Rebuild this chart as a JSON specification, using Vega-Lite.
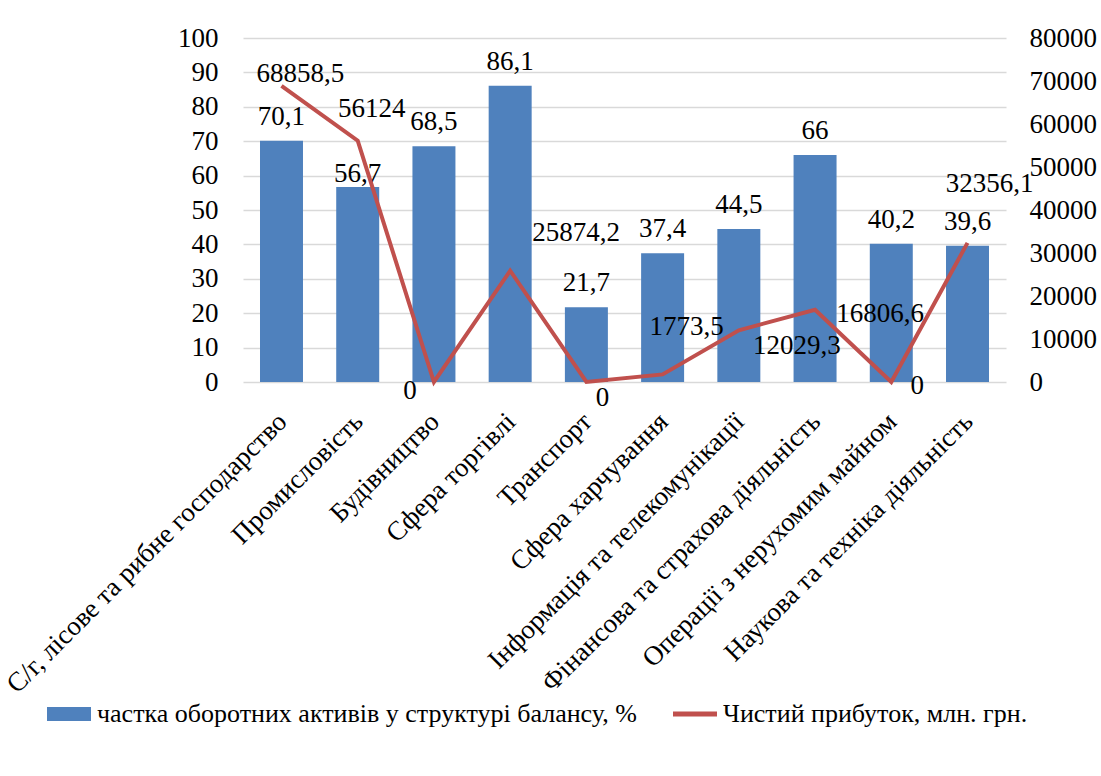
{
  "$schema": "https://vega.github.io/schema/vega-lite/v6.json",
  "width": 763,
  "height": 344,
  "autosize": "none",
  "padding": {"left": 243, "top": 38, "right": 95, "bottom": 394},
  "background": "white",
  "config": {
    "font": "serif",
    "view": {"stroke": null},
    "axis": {"labelColor": "black", "domain": false, "ticks": false, "labelFont": "serif"},
    "legend": {"labelFont": "serif"},
    "text": {"font": "serif"}
  },
  "data": {"values": [
    {"cat": "С/г, лісове та рибне господарство", "share": 70.1, "profit": 68858.5},
    {"cat": "Промисловість", "share": 56.7, "profit": 56124},
    {"cat": "Будівництво", "share": 68.5, "profit": 0},
    {"cat": "Сфера торгівлі", "share": 86.1, "profit": 25874.2},
    {"cat": "Транспорт", "share": 21.7, "profit": 0},
    {"cat": "Сфера харчування", "share": 37.4, "profit": 1773.5},
    {"cat": "Інформація та телекомунікації", "share": 44.5, "profit": 12029.3},
    {"cat": "Фінансова та страхова діяльність", "share": 66, "profit": 16806.6},
    {"cat": "Операції з нерухомим майном", "share": 40.2, "profit": 0},
    {"cat": "Наукова та техніка діяльність", "share": 39.6, "profit": 32356.1}
  ]},
  "transform": [
    {"calculate": "replace(format(datum.share, '~f'), '.', ',')", "as": "shareLabel"},
    {"calculate": "replace(format(datum.profit, '~f'), '.', ',')", "as": "profitLabel"}
  ],
  "encoding": {
    "x": {
      "field": "cat", "type": "nominal", "sort": null, "title": null,
      "scale": {"paddingInner": 0.436, "paddingOuter": 0.223},
      "axis": {"labelFont": "serif", "labelAngle": -45, "labelAlign": "right", "labelBaseline": "top", "labelFontSize": 27, "labelPadding": 26, "labelOffset": -8, "labelLimit": 0, "grid": false}
    }
  },
  "layer": [
    {
      "mark": {"type": "bar", "color": "#4F81BD"},
      "encoding": {
        "y": {
          "field": "share", "type": "quantitative", "title": null,
          "scale": {"domain": [0, 100], "nice": false},
          "axis": {"orient": "left", "labelFont": "serif", "values": [0, 10, 20, 30, 40, 50, 60, 70, 80, 90, 100], "format": "d", "labelFontSize": 27, "labelPadding": 25, "grid": true, "gridColor": "#D9D9D9", "gridWidth": 1.5}
        },
        "color": {
          "datum": "частка оборотних активів у структурі балансу, %",
          "scale": {"domain": ["частка оборотних активів у структурі балансу, %", "Чистий прибуток, млн. грн."], "range": ["#4F81BD", "#C0504D"]},
          "legend": {
            "orient": "none", "legendX": -196, "legendY": 654, "direction": "horizontal", "title": null,
            "labelFontSize": 26, "labelFont": "serif", "labelColor": "black", "labelLimit": 0,
            "symbolSize": 1936, "labelOffset": 6, "columnPadding": 36, "padding": 0,
            "encode": {
              "symbols": {"update": {
                "shape": {"signal": "datum.index === 0 ? 'M-1,-0.32H1V0.32H-1Z' : 'M-1,-0.11H1V0.11H-1Z'"},
                "fill": {"signal": "datum.index === 0 ? '#4F81BD' : '#C0504D'"},
                "stroke": {"value": "transparent"},
                "strokeWidth": {"value": 0},
                "opacity": {"value": 1},
                "fillOpacity": {"value": 1}
              }}
            }
          }
        }
      }
    },
    {
      "transform": [{"filter": "datum.cat !== 'Промисловість'"}],
      "mark": {"type": "text", "font": "serif", "fontSize": 27, "color": "black", "align": "center", "baseline": "alphabetic", "dy": -16},
      "encoding": {
        "y": {"field": "share", "type": "quantitative", "scale": {"domain": [0, 100], "nice": false}, "axis": null},
        "text": {"field": "shareLabel", "type": "nominal"}
      }
    },
    {
      "transform": [{"filter": {"field": "cat", "equal": "Промисловість"}}],
      "mark": {"type": "text", "font": "serif", "fontSize": 27, "color": "black", "align": "center", "baseline": "alphabetic", "dy": -5},
      "encoding": {
        "y": {"field": "share", "type": "quantitative", "scale": {"domain": [0, 100], "nice": false}, "axis": null},
        "text": {"field": "shareLabel", "type": "nominal"}
      }
    },
    {
      "mark": {"type": "line", "strokeWidth": 4},
      "encoding": {
        "y": {
          "field": "profit", "type": "quantitative", "title": null,
          "scale": {"domain": [0, 80000], "nice": false},
          "axis": {"orient": "right", "labelFont": "serif", "values": [0, 10000, 20000, 30000, 40000, 50000, 60000, 70000, 80000], "format": "d", "labelFontSize": 27, "labelPadding": 23, "grid": false}
        },
        "color": {"datum": "Чистий прибуток, млн. грн."}
      }
    },
    {"transform": [{"filter": {"field": "cat", "equal": "С/г, лісове та рибне господарство"}}], "mark": {"type": "text", "font": "serif", "fontSize": 27, "color": "black", "align": "center", "baseline": "alphabetic", "dx": 19, "dy": -4}, "encoding": {"y": {"field": "profit", "type": "quantitative", "scale": {"domain": [0, 80000], "nice": false}, "axis": null}, "text": {"field": "profitLabel", "type": "nominal"}}},
    {"transform": [{"filter": {"field": "cat", "equal": "Промисловість"}}], "mark": {"type": "text", "font": "serif", "fontSize": 27, "color": "black", "align": "center", "baseline": "alphabetic", "dx": 14, "dy": -24}, "encoding": {"y": {"field": "profit", "type": "quantitative", "scale": {"domain": [0, 80000], "nice": false}, "axis": null}, "text": {"field": "profitLabel", "type": "nominal"}}},
    {"transform": [{"filter": {"field": "cat", "equal": "Будівництво"}}], "mark": {"type": "text", "font": "serif", "fontSize": 27, "color": "black", "align": "center", "baseline": "alphabetic", "dx": -24, "dy": 17}, "encoding": {"y": {"field": "profit", "type": "quantitative", "scale": {"domain": [0, 80000], "nice": false}, "axis": null}, "text": {"field": "profitLabel", "type": "nominal"}}},
    {"transform": [{"filter": {"field": "cat", "equal": "Сфера торгівлі"}}], "mark": {"type": "text", "font": "serif", "fontSize": 27, "color": "black", "align": "center", "baseline": "alphabetic", "dx": 66, "dy": -30}, "encoding": {"y": {"field": "profit", "type": "quantitative", "scale": {"domain": [0, 80000], "nice": false}, "axis": null}, "text": {"field": "profitLabel", "type": "nominal"}}},
    {"transform": [{"filter": {"field": "cat", "equal": "Транспорт"}}], "mark": {"type": "text", "font": "serif", "fontSize": 27, "color": "black", "align": "center", "baseline": "alphabetic", "dx": 16, "dy": 24}, "encoding": {"y": {"field": "profit", "type": "quantitative", "scale": {"domain": [0, 80000], "nice": false}, "axis": null}, "text": {"field": "profitLabel", "type": "nominal"}}},
    {"transform": [{"filter": {"field": "cat", "equal": "Сфера харчування"}}], "mark": {"type": "text", "font": "serif", "fontSize": 27, "color": "black", "align": "center", "baseline": "alphabetic", "dx": 24, "dy": -39}, "encoding": {"y": {"field": "profit", "type": "quantitative", "scale": {"domain": [0, 80000], "nice": false}, "axis": null}, "text": {"field": "profitLabel", "type": "nominal"}}},
    {"transform": [{"filter": {"field": "cat", "equal": "Інформація та телекомунікації"}}], "mark": {"type": "text", "font": "serif", "fontSize": 27, "color": "black", "align": "center", "baseline": "alphabetic", "dx": 58, "dy": 24}, "encoding": {"y": {"field": "profit", "type": "quantitative", "scale": {"domain": [0, 80000], "nice": false}, "axis": null}, "text": {"field": "profitLabel", "type": "nominal"}}},
    {"transform": [{"filter": {"field": "cat", "equal": "Фінансова та страхова діяльність"}}], "mark": {"type": "text", "font": "serif", "fontSize": 27, "color": "black", "align": "center", "baseline": "alphabetic", "dx": 65, "dy": 12}, "encoding": {"y": {"field": "profit", "type": "quantitative", "scale": {"domain": [0, 80000], "nice": false}, "axis": null}, "text": {"field": "profitLabel", "type": "nominal"}}},
    {"transform": [{"filter": {"field": "cat", "equal": "Операції з нерухомим майном"}}], "mark": {"type": "text", "font": "serif", "fontSize": 27, "color": "black", "align": "center", "baseline": "alphabetic", "dx": 26, "dy": 12}, "encoding": {"y": {"field": "profit", "type": "quantitative", "scale": {"domain": [0, 80000], "nice": false}, "axis": null}, "text": {"field": "profitLabel", "type": "nominal"}}},
    {"transform": [{"filter": {"field": "cat", "equal": "Наукова та техніка діяльність"}}], "mark": {"type": "text", "font": "serif", "fontSize": 27, "color": "black", "align": "center", "baseline": "alphabetic", "dx": 22, "dy": -51}, "encoding": {"y": {"field": "profit", "type": "quantitative", "scale": {"domain": [0, 80000], "nice": false}, "axis": null}, "text": {"field": "profitLabel", "type": "nominal"}}}
  ],
  "resolve": {"scale": {"y": "independent"}, "axis": {"y": "independent"}}
}
